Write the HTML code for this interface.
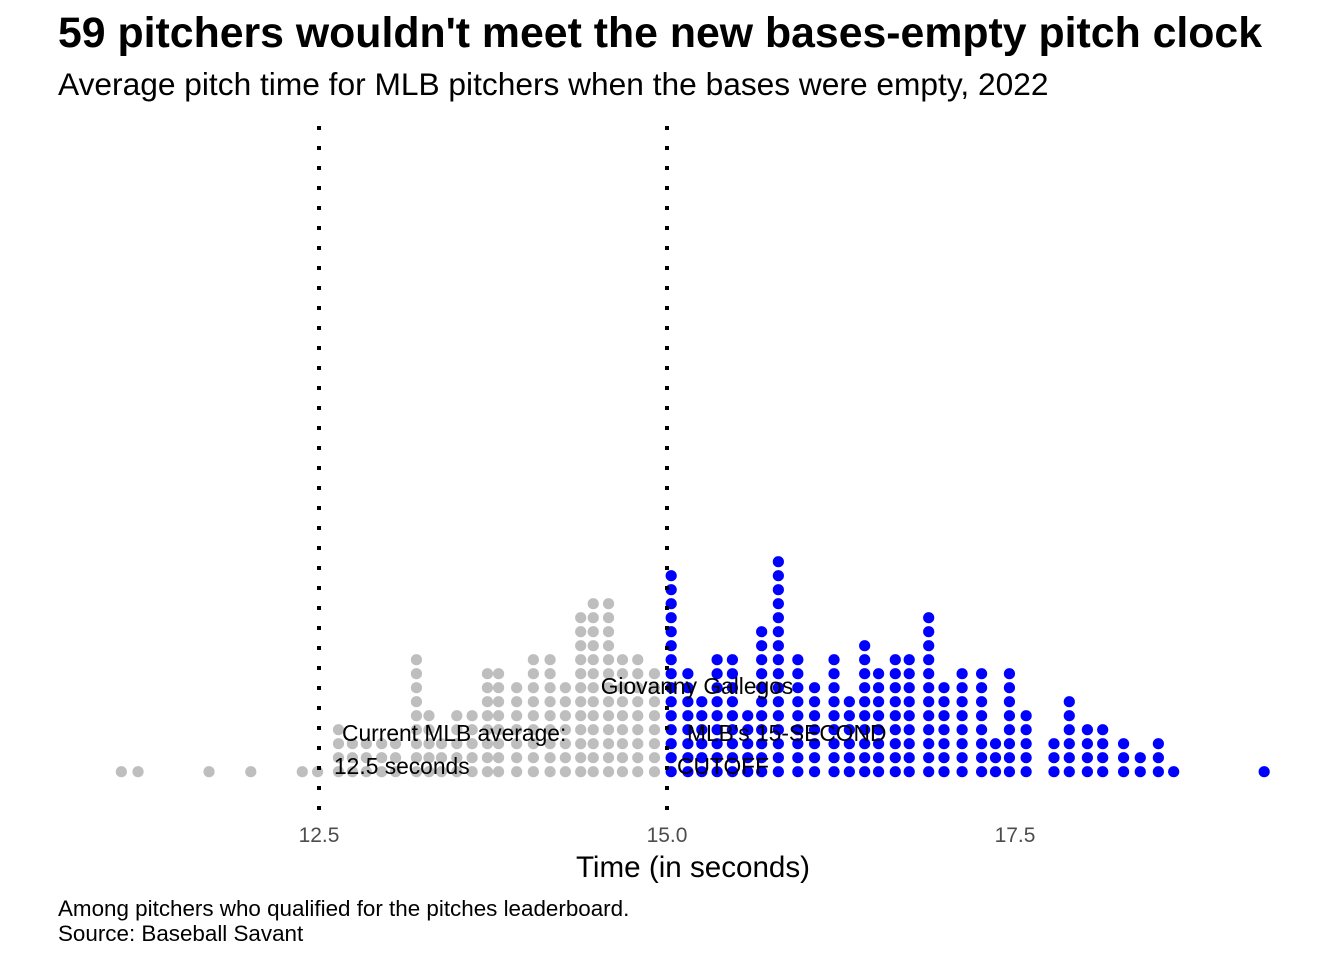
<!DOCTYPE html>
<html><head><meta charset="utf-8"><style>
html,body{margin:0;padding:0;background:#fff;width:1344px;height:960px;overflow:hidden}
svg text{font-family:"Liberation Sans",Arial,sans-serif}
</style></head><body>
<svg id="chart" width="1344" height="960" viewBox="0 0 1344 960" xmlns="http://www.w3.org/2000/svg">
<text x="58" y="47" font-size="42.8" font-weight="bold" fill="#000">59 pitchers wouldn't meet the new bases-empty pitch clock</text>
<text x="58" y="95" font-size="31.7" fill="#000">Average pitch time for MLB pitchers when the bases were empty, 2022</text>
<g id="dots"></g>
<line x1="319" y1="126" x2="319" y2="812" stroke="#000" stroke-width="4" stroke-dasharray="4 16"/>
<line x1="667" y1="126" x2="667" y2="812" stroke="#000" stroke-width="4" stroke-dasharray="4 16"/>
<g id="ticks"></g>
<text x="693" y="877" font-size="29.6" text-anchor="middle" fill="#000">Time (in seconds)</text>
<text x="342" y="741" font-size="22.8" fill="#000">Current MLB average:</text>
<text x="334" y="774" font-size="22.8" fill="#000">12.5 seconds</text>
<text x="697" y="694" font-size="22.8" text-anchor="middle" fill="#000">Giovanny Gallegos</text>
<text x="687" y="741" font-size="22.8" fill="#000">MLB's 15-SECOND</text>
<text x="677" y="774" font-size="22.8" fill="#000">CUTOFF</text>
<text x="58" y="916" font-size="22.4" fill="#000">Among pitchers who qualified for the pitches leaderboard.</text>
<text x="58" y="941" font-size="22.4" fill="#000">Source: Baseball Savant</text>
</svg>
<script>
const graySeconds=[11.08,11.20,11.71,12.01,12.38,12.49,12.64,12.74,12.84,12.95,13.05,13.20,13.29,13.38,13.49,13.60,13.71,13.79,13.92,14.04,14.16,14.27,14.38,14.47,14.58,14.68,14.79,14.91];
const grayCounts=[1,1,1,1,1,1,4,3,3,3,3,9,5,3,5,5,8,8,7,9,9,7,12,13,13,9,9,8];
const blueSeconds=[15.03,15.15,15.25,15.36,15.47,15.58,15.68,15.80,15.94,16.06,16.20,16.31,16.42,16.52,16.64,16.74,16.88,16.99,17.12,17.26,17.36,17.46,17.58,17.78,17.89,18.02,18.13,18.28,18.40,18.53,18.64,19.29];
const blueCounts=[15,8,6,9,9,5,11,16,9,7,9,6,10,8,9,9,12,7,8,8,3,8,5,3,6,4,4,3,2,3,1,1];
const tickValues=[12.5,15.0,17.5];
const tickLabels=["12.5","15.0","17.5"];
const NS="http://www.w3.org/2000/svg";
function xScale(s){return 319+(s-12.5)*139.2;}
function yStack(i){return 771.7-i*14;}
const g=document.getElementById('dots');
function drawSeries(secs,counts,color,name){
  secs.forEach((s,k)=>{
    for(let i=0;i<counts[k];i++){
      const c=document.createElementNS(NS,'circle');
      c.setAttribute('cx',xScale(s));c.setAttribute('cy',yStack(i));c.setAttribute('r',5.6);c.setAttribute('fill',color);
      
      
      g.appendChild(c);
    }
  });
}
drawSeries(graySeconds,grayCounts,'#bebebe','dot-under-cutoff');
drawSeries(blueSeconds,blueCounts,'#0000ff','dot-over-cutoff');
const tg=document.getElementById('ticks');
tickValues.forEach((v,i)=>{
  const t=document.createElementNS(NS,'text');
  t.setAttribute('x',xScale(v));t.setAttribute('y',842);t.setAttribute('font-size','21');
  t.setAttribute('text-anchor','middle');t.setAttribute('fill','#4d4d4d');
  t.textContent=tickLabels[i];
  
  
  tg.appendChild(t);
});
</script>
</body></html>
